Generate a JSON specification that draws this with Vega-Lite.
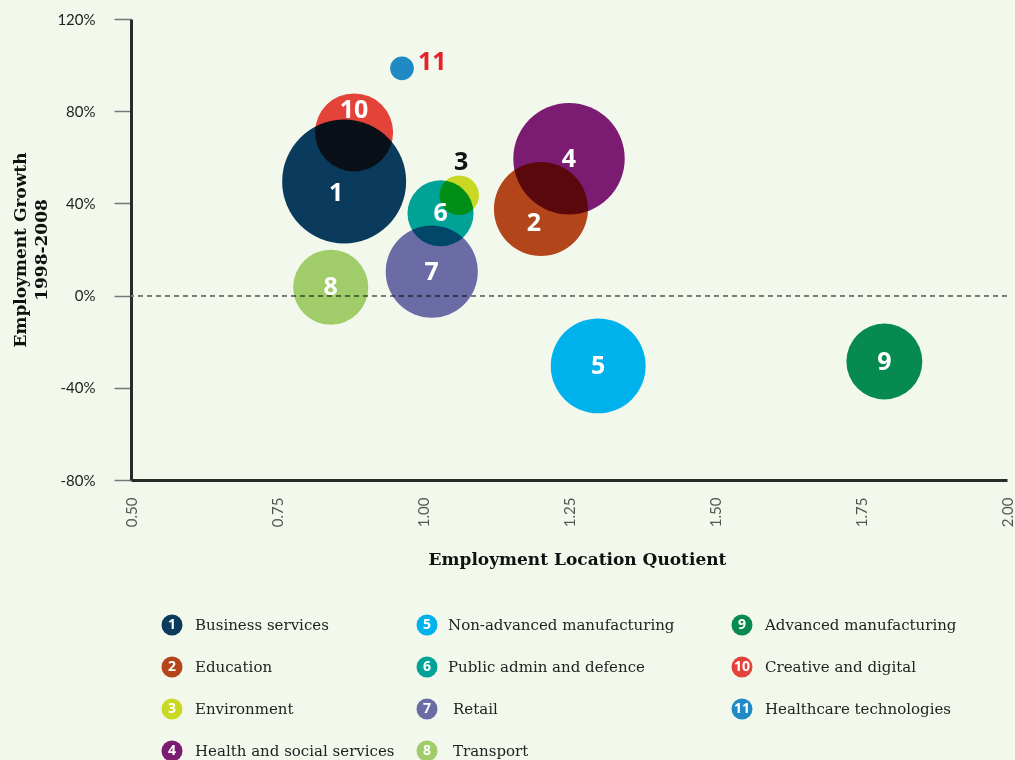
{
  "$schema": "https://vega.github.io/schema/vega-lite/v6.json",
  "background": "#f3f8ed",
  "padding": {"left": 11, "top": 12, "right": 0, "bottom": 0},
  "config": {"view": {"stroke": null}, "font": "Lato"},
  "bounds": "flush",
  "spacing": 124,
  "datasets": {
    "sectors": [
      {"id": 1, "sector": "Business services", "lq": 0.865, "growth": 0.495, "employment": 384},
      {"id": 2, "sector": "Education", "lq": 1.202, "growth": 0.376, "employment": 221},
      {"id": 3, "sector": "Environment", "lq": 1.062, "growth": 0.435, "employment": 39},
      {"id": 4, "sector": "Health and social services", "lq": 1.25, "growth": 0.594, "employment": 310},
      {"id": 5, "sector": "Non-advanced manufacturing", "lq": 1.3, "growth": -0.305, "employment": 225},
      {"id": 6, "sector": "Public admin and defence", "lq": 1.03, "growth": 0.357, "employment": 109},
      {"id": 7, "sector": "Retail", "lq": 1.015, "growth": 0.104, "employment": 212},
      {"id": 8, "sector": "Transport", "lq": 0.842, "growth": 0.036, "employment": 141},
      {"id": 9, "sector": "Advanced manufacturing", "lq": 1.79, "growth": -0.286, "employment": 144},
      {"id": 10, "sector": "Creative and digital", "lq": 0.882, "growth": 0.708, "employment": 152},
      {"id": 11, "sector": "Healthcare technologies", "lq": 0.964, "growth": 0.986, "employment": 14}
    ]
  },
  "vconcat": [
    {
      "width": 876,
      "height": 461,
      "data": {"name": "sectors"},
      "encoding": {
        "x": {
          "field": "lq", "type": "quantitative",
          "scale": {"domain": [0.5, 2.0], "nice": false, "zero": false},
          "axis": {
            "values": [0.5, 0.75, 1, 1.25, 1.5, 1.75, 2],
            "format": ".2f", "labelAngle": 270, "ticks": false, "labelPadding": 17,
            "domainColor": "#2a2a2a", "domainWidth": 3, "labelColor": "#555",
            "labelFont": "Lato", "labelFontSize": 15, "grid": false, "labelFlush": false, "labelOverlap": false,
            "title": "Employment Location Quotient", "titleFont": "DejaVu Serif", "titleFontWeight": "bold",
            "titleFontSize": 17, "titleColor": "#111", "titlePadding": 25, "titleX": 446
          }
        },
        "y": {
          "field": "growth", "type": "quantitative",
          "scale": {"domain": [-0.8, 1.2], "nice": false, "zero": false},
          "axis": {
            "values": [-0.8, -0.4, 0, 0.4, 0.8, 1.2],
            "labelExpr": "round(datum.value * 100) + '%'",
            "tickSize": 17, "tickColor": "#777", "tickWidth": 1.5, "labelPadding": 19,
            "labelFont": "Lato", "labelFontSize": 15, "labelColor": "#222",
            "domainColor": "#2a2a2a", "domainWidth": 3, "grid": false, "labelFlush": false, "labelOverlap": false,
            "title": ["Employment Growth", "1998-2008"], "titleFont": "DejaVu Serif", "titleFontWeight": "bold",
            "titleFontSize": 17, "titleColor": "#111", "titleLineHeight": 21, "titlePadding": 6
          }
        }
      },
      "layer": [
        {
          "mark": {"type": "rule", "strokeDash": [5, 4], "color": "#7a7a7a", "strokeWidth": 1.3},
          "encoding": {"x": null, "y": {"datum": 0, "type": "quantitative"}}
        },
        {
          "mark": {"type": "circle", "opacity": 1, "blend": "multiply"},
          "encoding": {
            "size": {"field": "employment", "type": "quantitative", "scale": {"domain": [0, 384], "range": [0, 15376]}, "legend": null},
            "color": {
              "field": "sector", "type": "nominal", "legend": null,
              "scale": {
                "domain": ["Business services", "Education", "Environment", "Health and social services", "Non-advanced manufacturing", "Public admin and defence", "Retail", "Transport", "Advanced manufacturing", "Creative and digital", "Healthcare technologies"],
                "range": ["#0a3c63", "#bc471c", "#d2de25", "#811b7b", "#00b7fe", "#00a8a1", "#706eb3", "#a8d372", "#068e55", "#f0453e", "#218ed3"]
              }
            }
          }
        },
        {
          "transform": [{"filter": "indexof([4,5,6,7,8,9], datum.id) >= 0"}],
          "mark": {"type": "text", "color": "white", "font": "Open Sans", "fontWeight": "bold", "fontSize": 25, "baseline": "middle"},
          "encoding": {"text": {"field": "id"}}
        },
        {
          "transform": [{"filter": "datum.id == 1"}],
          "mark": {"type": "text", "color": "white", "font": "Open Sans", "fontWeight": "bold", "fontSize": 25, "baseline": "middle", "dx": -8, "dy": 11},
          "encoding": {"text": {"field": "id"}}
        },
        {
          "transform": [{"filter": "datum.id == 2"}],
          "mark": {"type": "text", "color": "white", "font": "Open Sans", "fontWeight": "bold", "fontSize": 25, "baseline": "middle", "dx": -7, "dy": 14},
          "encoding": {"text": {"field": "id"}}
        },
        {
          "transform": [{"filter": "datum.id == 10"}],
          "mark": {"type": "text", "color": "white", "font": "Open Sans", "fontWeight": "bold", "fontSize": 25, "baseline": "middle", "dy": -22},
          "encoding": {"text": {"field": "id"}}
        },
        {
          "transform": [{"filter": "datum.id == 3"}],
          "mark": {"type": "text", "color": "#111", "font": "Open Sans", "fontWeight": "bold", "fontSize": 25, "baseline": "middle", "dx": 2, "dy": -33},
          "encoding": {"text": {"field": "id"}}
        },
        {
          "transform": [{"filter": "datum.id == 11"}],
          "mark": {"type": "text", "color": "#e8202a", "font": "Open Sans", "fontWeight": "bold", "fontSize": 25, "baseline": "middle", "align": "left", "dx": 16, "dy": -6},
          "encoding": {"text": {"field": "id"}}
        }
      ]
    },
    {
      "spacing": 0,
      "bounds": "flush",
      "hconcat": [
        {
          "width": 255, "height": {"step": 42},
          "data": {"name": "sectors"},
          "transform": [{"filter": "datum.id <= 4"}],
          "encoding": {
            "x": {"datum": 0, "type": "quantitative", "scale": {"domain": [0, 1], "padding": 41, "nice": false}, "axis": null},
            "y": {"field": "id", "type": "ordinal", "axis": null}
          },
          "layer": [
            {"mark": {"type": "circle", "size": 441, "opacity": 1, "blend": "multiply"}, "encoding": {"color": {"field": "sector", "type": "nominal", "legend": null}}},
            {"mark": {"type": "text", "color": "white", "font": "Open Sans", "fontWeight": "bold", "fontSize": 14, "baseline": "middle"}, "encoding": {"text": {"field": "id"}}},
            {"mark": {"type": "text", "align": "left", "baseline": "middle", "dx": 23, "font": "DejaVu Serif", "fontSize": 15, "color": "#222"}, "encoding": {"text": {"field": "sector"}}}
          ]
        },
        {
          "width": 315, "height": {"step": 42},
          "data": {"name": "sectors"},
          "transform": [{"filter": "datum.id >= 5 && datum.id <= 8"}],
          "encoding": {
            "x": {"datum": 0, "type": "quantitative", "scale": {"domain": [0, 1], "padding": 41, "nice": false}, "axis": null},
            "y": {"field": "id", "type": "ordinal", "axis": null}
          },
          "layer": [
            {"mark": {"type": "circle", "size": 441, "opacity": 1, "blend": "multiply"}, "encoding": {"color": {"field": "sector", "type": "nominal", "legend": null}}},
            {"mark": {"type": "text", "color": "white", "font": "Open Sans", "fontWeight": "bold", "fontSize": 14, "baseline": "middle"}, "encoding": {"text": {"field": "id"}}},
            {"transform": [{"filter": "datum.id <= 6"}], "mark": {"type": "text", "align": "left", "baseline": "middle", "dx": 21, "font": "DejaVu Serif", "fontSize": 15, "color": "#222"}, "encoding": {"text": {"field": "sector"}}},
            {"transform": [{"filter": "datum.id >= 7"}], "mark": {"type": "text", "align": "left", "baseline": "middle", "dx": 26, "font": "DejaVu Serif", "fontSize": 15, "color": "#222"}, "encoding": {"text": {"field": "sector"}}}
          ]
        },
        {
          "width": 260, "height": {"step": 42},
          "data": {"name": "sectors"},
          "transform": [{"filter": "datum.id >= 9"}],
          "encoding": {
            "x": {"datum": 0, "type": "quantitative", "scale": {"domain": [0, 1], "padding": 41, "nice": false}, "axis": null},
            "y": {"field": "id", "type": "ordinal", "axis": null}
          },
          "layer": [
            {"mark": {"type": "circle", "size": 441, "opacity": 1, "blend": "multiply"}, "encoding": {"color": {"field": "sector", "type": "nominal", "legend": null}}},
            {"mark": {"type": "text", "color": "white", "font": "Open Sans", "fontWeight": "bold", "fontSize": 14, "baseline": "middle"}, "encoding": {"text": {"field": "id"}}},
            {"mark": {"type": "text", "align": "left", "baseline": "middle", "dx": 23, "font": "DejaVu Serif", "fontSize": 15, "color": "#222"}, "encoding": {"text": {"field": "sector"}}}
          ]
        }
      ]
    }
  ]
}
